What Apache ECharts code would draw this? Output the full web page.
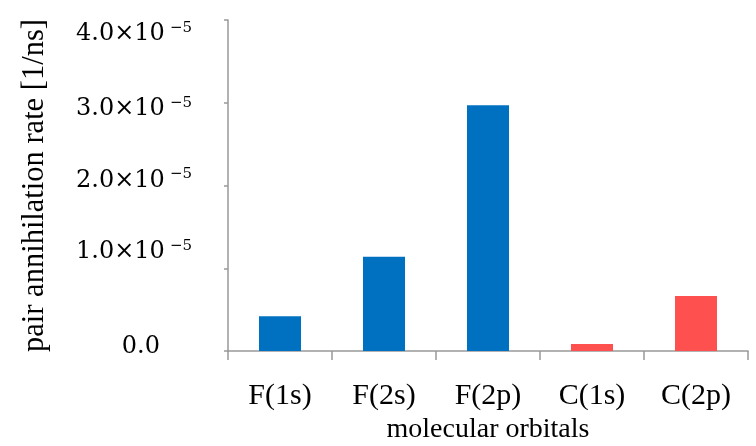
<!DOCTYPE html>
<html>
<head>
<meta charset="utf-8">
<script src="https://cdn.jsdelivr.net/npm/echarts@6/dist/echarts.min.js"></script>
<style>html,body{margin:0;padding:0;background:#fff}#c{width:756px;height:446px}</style>
</head>
<body>
<div id="c"></div>
<script>
const categories = ['F(1s)', 'F(2s)', 'F(2p)', 'C(1s)', 'C(2p)'];
const rates = [0.42e-5, 1.14e-5, 2.97e-5, 0.085e-5, 0.665e-5];
const barColors = ['#0070C0', '#0070C0', '#0070C0', '#FF5050', '#FF5050'];
const yTickMantissas = ['0.0', '1.0', '2.0', '3.0', '4.0'];
const yExponent = '\u22125';

// per-label vertical shift (px) of the y tick labels, as in the reference
const shift = [-4, -16, -5, 6, 14];
const rich = {};
shift.forEach(function (d, i) {
  const pad = d >= 0 ? [2 * d, 0, 0, 0] : [0, 0, -2 * d, 0];
  rich['b' + i] = { fontFamily: 'DejaVu Serif', fontSize: 24, lineHeight: 26, color: '#000', padding: pad };
  rich['s' + i] = { fontFamily: 'DejaVu Serif', fontSize: 15, lineHeight: 14, color: '#000',
    padding: [pad[0], 0, pad[2] + 12, 5] };
  rich['z' + i] = { fontFamily: 'DejaVu Serif', fontSize: 24, lineHeight: 26, color: '#000',
    padding: [pad[0], 32, pad[2], 0] };
});

const chart = echarts.init(document.getElementById('c'), null, { renderer: 'canvas' });
chart.setOption({
  animation: false,
  grid: { left: 228, right: 8, top: 20, bottom: 95, outerBoundsMode: 'none', containLabel: false },
  xAxis: {
    type: 'category',
    data: categories,
    name: 'molecular orbitals',
    nameLocation: 'middle',
    nameGap: 64,
    nameTextStyle: { fontFamily: 'Liberation Serif', fontSize: 28, color: '#000' },
    axisLine: { lineStyle: { color: '#999', width: 1.5 } },
    axisTick: { show: true, length: 9, lineStyle: { color: '#999', width: 1.5 } },
    axisLabel: { fontFamily: 'Liberation Serif', fontSize: 30, color: '#000', margin: 30 }
  },
  yAxis: {
    type: 'value',
    min: 0,
    max: 4e-5,
    interval: 1e-5,
    name: 'pair annihilation rate [1/ns]',
    nameLocation: 'middle',
    nameGap: 178,
    nameTextStyle: { fontFamily: 'Liberation Serif', fontSize: 30.5, color: '#000' },
    splitLine: { show: false },
    axisLine: { show: true, lineStyle: { color: '#999', width: 1.5 } },
    axisTick: { show: true, length: 4, lineStyle: { color: '#999', width: 1.5 } },
    axisLabel: {
      margin: 36,
      rich: rich,
      formatter: function (v, i) {
        const idx = Math.round(v / 1e-5);
        const m = yTickMantissas[idx];
        if (idx === 0) return '{z0|' + m + '}';
        return '{b' + idx + '|' + m + '\u00d710}{s' + idx + '|' + yExponent + '}';
      }
    }
  },
  series: [{
    type: 'bar',
    barWidth: 42,
    data: rates.map(function (v, i) { return { value: v, itemStyle: { color: barColors[i] } }; })
  }]
});
</script>
</body>
</html>
